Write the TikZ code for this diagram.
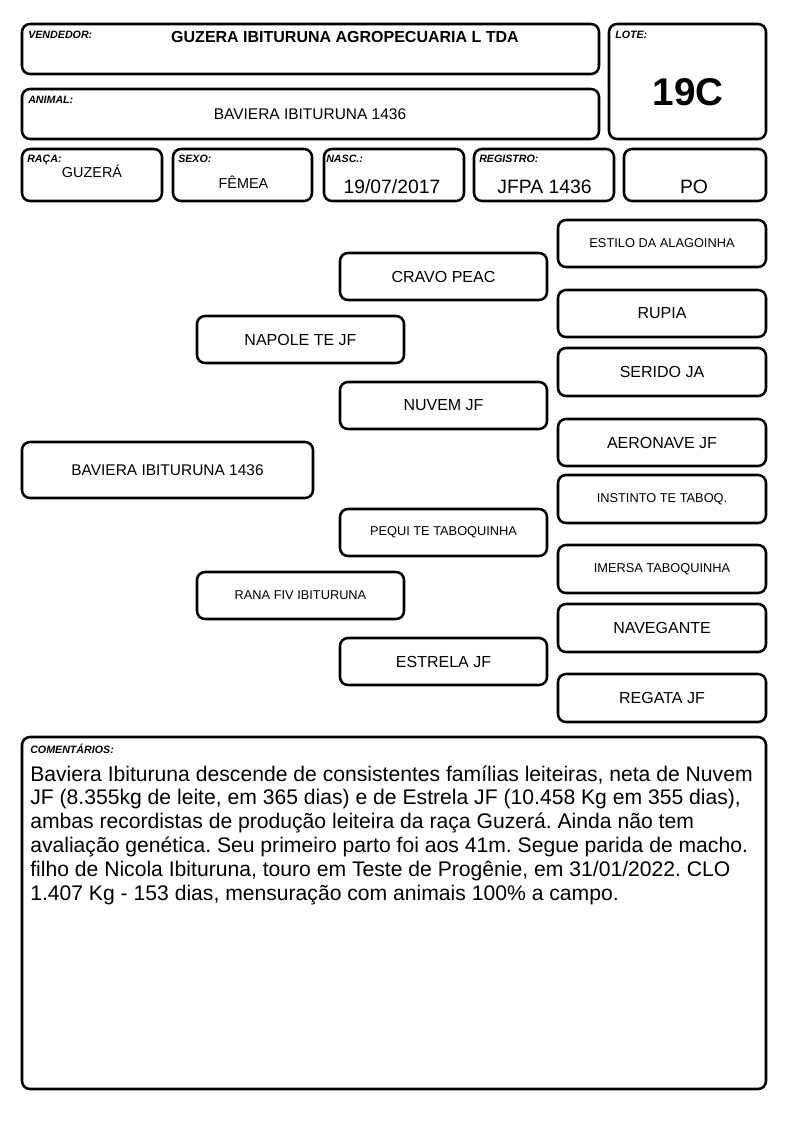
\documentclass[tikz,border=0pt]{standalone}
\usepackage{fontspec}
\setmainfont{Liberation Sans}
\frenchspacing
\tikzset{
  cell/.style={draw=black, line width=1.9pt, rounded corners=6pt, inner sep=0pt, align=center},
  big/.style={font=\fontsize{12}{14}\selectfont},
  small/.style={font=\fontsize{9.6}{12}\selectfont},
  lbl/.style={font=\fontsize{8}{9}\selectfont\bfseries\itshape, anchor=base west, inner sep=0pt},
  val/.style={anchor=base, inner sep=0pt},
  com/.style={anchor=base west, inner sep=0pt, font=\fontsize{15.85}{18}\selectfont},
}
\newcommand\pbox[7][]{\node[cell,#1,minimum width={(#5-#3-2)*0.75pt},minimum height={(#6-#4-2)*0.75pt}] (#2) at ({(#3+#5)/2},{(#4+#6)/2}) {#7};}
\begin{document}
\begin{tikzpicture}[x=0.75pt,y=-0.75pt]
\useasboundingbox (0,0) rectangle (794,1123);
\fill[white] (0,0) rectangle (794,1123);
% header boxes
\pbox{vend}{21}{23}{600}{75}{}
\pbox{anim}{21}{88}{600}{140}{}
\pbox{lote}{608}{23}{767}{140}{}
\pbox{raca}{21}{148}{163}{202}{}
\pbox{sexo}{172}{148}{313}{202}{}
\pbox{nasc}{323}{148}{465}{202}{}
\pbox{reg}{473}{148}{615}{202}{}
\pbox{po}{623}{148}{767}{202}{}
% labels
\node[lbl] (lvend) at (28,39) {VENDEDOR:};
\node[lbl] (lanim) at (28,103.5) {ANIMAL:};
\node[lbl] (llote) at (615,39) {LOTE:};
\node[lbl] (lraca) at (27,162.5) {RAÇA:};
\node[lbl] (lsexo) at (178,162.5) {SEXO:};
\node[lbl] (lnasc) at (326,162.5) {NASC.:};
\node[lbl] (lreg) at (479,162.5) {REGISTRO:};
% values
\node[val, font=\fontsize{12}{14}\selectfont\bfseries] (vval) at (345,43) {GUZERA IBITURUNA AGROPECUARIA L TDA};
\node[val, font=\fontsize{11.6}{14}\selectfont] (aval) at (310,119.5) {BAVIERA IBITURUNA 1436};
\node[val, font=\fontsize{29}{32}\selectfont\bfseries] (lval) at (688,106) {19C};
\node[val, font=\fontsize{10.8}{13}\selectfont] (rval) at (92,178) {GUZERÁ};
\node[val, font=\fontsize{10.8}{13}\selectfont] (sval) at (243.5,189) {FÊMEA};
\node[val, font=\fontsize{14.5}{17}\selectfont] (nval) at (392,194) {19/07/2017};
\node[val, font=\fontsize{14.5}{17}\selectfont] (regval) at (544.5,193.5) {JFPA 1436};
\node[val, font=\fontsize{14.5}{17}\selectfont] (poval) at (694,193.5) {PO};
% pedigree
\pbox[font=\fontsize{11.6}{14}\selectfont]{p0}{21}{441}{314}{499}{BAVIERA IBITURUNA 1436}
\pbox[big]{s}{196}{315}{405}{364}{NAPOLE TE JF}
\pbox[small]{d}{196}{571}{405}{620}{RANA FIV IBITURUNA}
\pbox[big]{ss}{339}{252}{548}{301}{CRAVO PEAC}
\pbox[big]{sd}{339}{381}{548}{430}{NUVEM JF}
\pbox[small]{ds}{339}{508}{548}{557}{PEQUI TE TABOQUINHA}
\pbox[big]{dd}{339}{637}{548}{686}{ESTRELA JF}
\pbox[small]{sss}{557}{219}{767}{268}{ESTILO DA ALAGOINHA}
\pbox[big]{ssd}{557}{289}{767}{338}{RUPIA}
\pbox[big]{sds}{557}{347}{767}{397}{SERIDO JA}
\pbox[big]{sdd}{557}{418}{767}{467}{AERONAVE JF}
\pbox[small]{dss}{557}{474}{767}{524}{INSTINTO TE TABOQ.}
\pbox[small]{dsd}{557}{544}{767}{594}{IMERSA TABOQUINHA}
\pbox[big]{dds}{557}{603}{767}{653}{NAVEGANTE}
\pbox[big]{ddd}{557}{673}{767}{723}{REGATA JF}
% comments
\pbox{combox}{21}{736}{767}{1090}{}
\node[lbl] (lcom) at (30,753.5) {COMENTÁRIOS:};
\node[com] (c1) at (30,781) {Baviera Ibituruna descende de consistentes famílias leiteiras, neta de Nuvem};
\node[com] (c2) at (30,804.8) {JF (8.355kg de leite, em 365 dias) e de Estrela JF (10.458 Kg em 355 dias),};
\node[com] (c3) at (30,828.6) {ambas recordistas de produção leiteira da raça Guzerá. Ainda não tem};
\node[com] (c4) at (30,852.4) {avaliação genética. Seu primeiro parto foi aos 41m. Segue parida de macho.};
\node[com] (c5) at (30,876.2) {filho de Nicola Ibituruna, touro em Teste de Progênie, em 31/01/2022. CLO};
\node[com] (c6) at (30,900) {1.407 Kg - 153 dias, mensuração com animais 100\% a campo.};
\end{tikzpicture}
\end{document}
